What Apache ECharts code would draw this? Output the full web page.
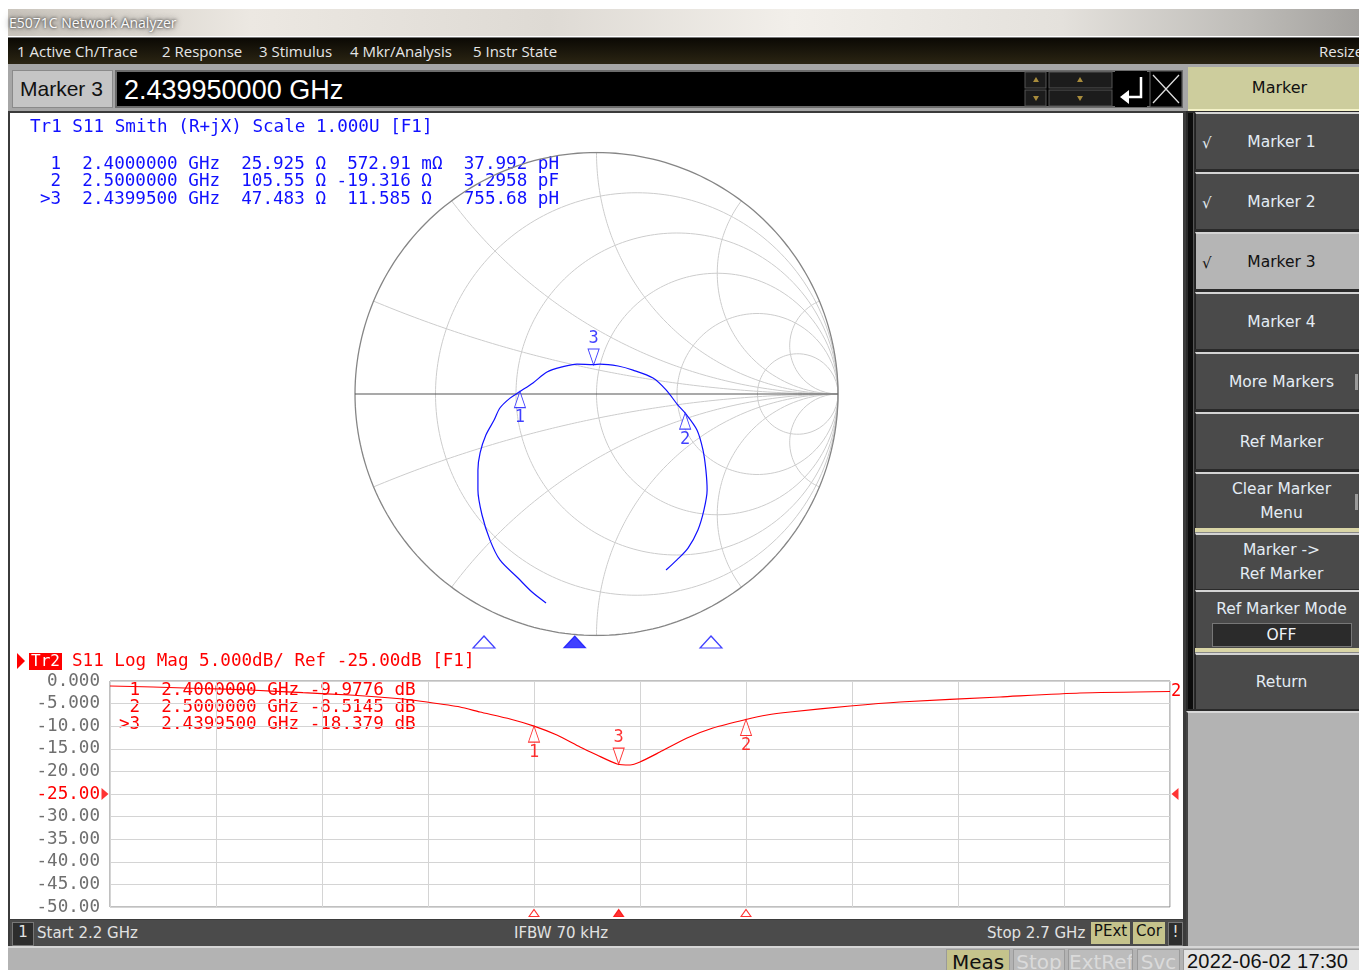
<!DOCTYPE html>
<html>
<head>
<meta charset="utf-8">
<title>E5071C Network Analyzer</title>
<script src="https://cdn.jsdelivr.net/npm/echarts@6/dist/echarts.min.js"></script>
<style>
  body { margin: 0; width: 1359px; height: 970px; background: #fff; position: relative; overflow: hidden; font-family: 'Open Sans', 'DejaVu Sans', sans-serif; }
  .abs { position: absolute; box-sizing: border-box; }
  .menu span { position: absolute; top: 3px; color: #e6e6e6; font-size: 15px; white-space: nowrap; }
  .btn { position: absolute; left: 1195px; width: 164px; background: #4a4a4a; border-top: 2px solid #d4d4d4; border-left: 1px solid #222;
         color: #e4ecf4; font: 15.5px 'DejaVu Sans', sans-serif; display: flex; align-items: center; justify-content: center;
         text-align: center; line-height: 24px; box-sizing: border-box; padding-left: 8px; }
  .btn .chk { position: absolute; left: 6px; top: 50%; margin-top: -11px; font-size: 15px; color: #e4ecf4; }
  .status { color: #e2e2e2; font: 15px 'DejaVu Sans', sans-serif; position: absolute; top: 4px; white-space: nowrap; }
  .tag { position: absolute; top: 2px; height: 22px; line-height: 22px; text-align: center; font: 15px 'DejaVu Sans', sans-serif; }
  .bot { position: absolute; top: 1px; height: 23px; line-height: 23px; text-align: center; font: 20px 'DejaVu Sans', sans-serif; white-space: nowrap; overflow: hidden; border: 1px solid #9a9a9a; box-sizing: border-box; }
</style>
</head>
<body>
<!-- window title -->
<div class="abs" style="left:8px;top:9px;width:1351px;height:27px;background:linear-gradient(90deg,#cac5bd 0%,#ece8e2 18%,#dedad4 40%,#f2efea 58%,#e4e1dc 78%,#bdbbb7 92%,#a3a19e 100%);">
  <span style="position:absolute;left:1px;top:4px;font-size:14px;color:#fafafa;text-shadow:0 0 3px #222,0 0 7px #444;">E5071C Network Analyzer</span>
</div>
<!-- menu bar -->
<div class="abs menu" style="left:8px;top:37px;width:1351px;height:27px;background:linear-gradient(180deg,#0b0904,#2b2513);border-top:1px solid #777;">
  <span style="left:9px">1 Active Ch/Trace</span>
  <span style="left:154px">2 Response</span>
  <span style="left:251px">3 Stimulus</span>
  <span style="left:342px">4 Mkr/Analysis</span>
  <span style="left:465px">5 Instr State</span>
  <span style="left:1311px">Resize</span>
</div>
<!-- entry row -->
<div class="abs" style="left:8px;top:64px;width:1178px;height:48px;background:#a6a6a6;"></div>
<div class="abs" style="left:12px;top:70px;width:101px;height:38px;background:#c5c5c5;border:1px solid #8a8a8a;font:21px 'Liberation Sans',Arial,sans-serif;line-height:36px;padding-left:7px;color:#111;">Marker 3</div>
<div class="abs" style="left:115px;top:70px;width:1068px;height:38px;background:#000;border:2px solid #6c6c6c;">
  <span style="position:absolute;left:7px;top:1px;font:27px 'Liberation Sans',Arial,sans-serif;color:#fff;line-height:34px;">2.439950000 GHz</span>
</div>
<svg class="abs" style="left:1024px;top:71px" width="160" height="37">
  <rect x="1" y="1" width="21" height="16" fill="#1c1c1c" stroke="#555"/>
  <rect x="1" y="19" width="21" height="16" fill="#1c1c1c" stroke="#555"/>
  <rect x="25" y="1" width="63" height="16" fill="#1c1c1c" stroke="#555"/>
  <rect x="25" y="19" width="63" height="16" fill="#1c1c1c" stroke="#555"/>
  <path d="M9,11 L12,6 L15,11 Z" fill="#a88c3c"/>
  <path d="M9,25 L12,30 L15,25 Z" fill="#a88c3c"/>
  <path d="M53,11 L56,6 L59,11 Z" fill="#a88c3c"/>
  <path d="M53,25 L56,30 L59,25 Z" fill="#a88c3c"/>
  <rect x="91" y="0" width="32" height="36" fill="#000"/>
  <path d="M117,6 L117,26 L104,26" stroke="#fff" stroke-width="2.5" fill="none"/>
  <path d="M96,26 L105,19 L105,33 Z" fill="#fff"/>
  <rect x="126" y="0" width="32" height="36" fill="#000" stroke="#666"/>
  <path d="M129,4 L155,32 M155,4 L129,32" stroke="#ddd" stroke-width="1.3"/>
</svg>
<!-- softkey panel -->
<div class="abs" style="left:1186px;top:64px;width:173px;height:48px;background:#a6a6a6;"></div>
<div class="abs" style="left:1188px;top:67px;width:171px;height:44px;background:#cdcd9d;border-bottom:2px solid #f4f2c8;font:16px 'DejaVu Sans',sans-serif;text-align:center;line-height:42px;color:#111;padding-left:12px;">Marker</div>
<div class="abs" style="left:1186px;top:111px;width:173px;height:601px;background:#2a2a2a;"></div>
<div class="abs" style="left:1188px;top:113px;width:6px;height:596px;background:#0c0c0c;border-right:1px solid #555;"></div>
<div class="btn" style="top:112px;height:57px;"><span class="chk">√</span>Marker 1</div>
<div class="btn" style="top:172px;height:57px;"><span class="chk">√</span>Marker 2</div>
<div class="btn" style="top:232px;height:57px;background:#b5b5b5;color:#111;"><span class="chk" style="color:#111">√</span>Marker 3</div>
<div class="btn" style="top:292px;height:57px;">Marker 4</div>
<div class="btn" style="top:352px;height:57px;">More Markers<span style="position:absolute;right:1px;top:20px;width:3px;height:16px;background:#999"></span></div>
<div class="btn" style="top:412px;height:57px;">Ref Marker</div>
<div class="btn" style="top:472px;height:56px;">Clear Marker<br>Menu<span style="position:absolute;right:1px;top:20px;width:3px;height:16px;background:#999"></span></div>
<div class="abs" style="left:1195px;top:528px;width:164px;height:5px;background:#d9d5a6;border-bottom:1px solid #888;"></div>
<div class="btn" style="top:533px;height:56px;">Marker -&gt;<br>Ref Marker</div>
<div class="btn" style="top:590px;height:58px;flex-direction:column;justify-content:flex-start;padding-top:5px;">Ref Marker Mode
  <div style="margin-top:2px;width:138px;height:22px;line-height:22px;background:#2b2b2b;border:1px solid #777;color:#eef2f8;">OFF</div>
</div>
<div class="abs" style="left:1195px;top:648px;width:164px;height:5px;background:#d9d5a6;border-bottom:1px solid #888;"></div>
<div class="btn" style="top:653px;height:56px;">Return</div>
<div class="abs" style="left:1186px;top:711px;width:173px;height:236px;background:#b3b3b3;border-top:2px solid #d8d8d8;border-left:2px solid #444;"></div>
<!-- chart frame -->
<div class="abs" style="left:8px;top:111px;width:1178px;height:836px;background:#3b3b3b;"></div>
<div id="main" class="abs" style="left:10px;top:113px;width:1173px;height:806px;background:#fff;"></div>
<!-- status bar -->
<div class="abs" style="left:10px;top:920px;width:1173px;height:26px;background:#4b4b4b;">
  <div class="tag" style="left:2px;width:20px;background:#2d2d2d;border:1px solid #777;color:#e2e2e2;">1</div>
  <span class="status" style="left:27px">Start 2.2 GHz</span>
  <span class="status" style="left:504px">IFBW 70 kHz</span>
  <span class="status" style="left:977px">Stop 2.7 GHz</span>
  <div class="tag" style="left:1081px;width:39px;background:#c5c38c;color:#111;">PExt</div>
  <div class="tag" style="left:1123px;width:32px;background:#c5c38c;color:#111;">Cor</div>
  <div class="tag" style="left:1158px;width:13px;background:#2d2d2d;border:1px solid #777;color:#e2e2e2;">!</div>
</div>
<!-- bottom bar -->
<div class="abs" style="left:8px;top:946px;width:1351px;height:24px;background:#b3b3b3;border-top:2px solid #d6d6d6;overflow:hidden;">
  <div class="bot" style="left:938px;width:64px;background:#c5c38c;color:#111;">Meas</div>
  <div class="bot" style="left:1005px;width:52px;background:#bcbcbc;color:#dadada;">Stop</div>
  <div class="bot" style="left:1060px;width:65px;background:#bcbcbc;color:#dadada;">ExtRef</div>
  <div class="bot" style="left:1129px;width:43px;background:#bcbcbc;color:#dadada;">Svc</div>
  <div class="bot" style="left:1175px;width:190px;background:#e4e4e4;color:#111;text-align:left;padding-left:3px;font:20px 'Liberation Sans',Arial,sans-serif;letter-spacing:0.2px;">2022-06-02 17:30</div>
</div>

<script>
// Smith chart grid values (normalized resistance / reactance)
const smithRValues = [0.2, 0.5, 1, 2, 5];
const smithXValues = [0.2, 0.5, 1, 2, 5];

// S11 trace on the Smith chart, reflection coefficient [re, im]
const smithTrace = [
  [-0.209, -0.865], [-0.267, -0.820], [-0.325, -0.762], [-0.400, -0.687], [-0.441, -0.605],
  [-0.474, -0.501], [-0.491, -0.398], [-0.491, -0.315], [-0.482, -0.244], [-0.458, -0.170],
  [-0.424, -0.108], [-0.400, -0.058], [-0.358, -0.017], [-0.317, 0.010], [-0.263, 0.046],
  [-0.205, 0.091], [-0.143, 0.112], [-0.081, 0.124], [-0.012, 0.122], [0.014, 0.124],
  [0.089, 0.116], [0.151, 0.099], [0.234, 0.066], [0.288, 0.017], [0.337, -0.046],
  [0.369, -0.081], [0.416, -0.149], [0.441, -0.232], [0.453, -0.315], [0.458, -0.398],
  [0.445, -0.480], [0.420, -0.563], [0.379, -0.638], [0.333, -0.687], [0.288, -0.729]
];

// markers
const markerIds = ['1', '2', '3'];
const markerFreqs = [2.4, 2.5, 2.43995];
const activeMarker = 2;
const smithMarkerGamma = [[-0.317, 0.010], [0.367, -0.079], [-0.012, 0.120]];
const logMarkerDb = [-9.9776, -8.5145, -18.379];

// Log Mag trace (GHz, dB)
const logFreqs = [
  2.2000, 2.2203, 2.2425, 2.2660, 2.2910, 2.3132, 2.3382, 2.3495, 2.3651, 2.3745,
  2.3887, 2.4000, 2.4108, 2.4217, 2.4297, 2.4392, 2.4453, 2.4500, 2.4594, 2.4722,
  2.4844, 2.5000, 2.5099, 2.5208, 2.5491, 2.5726, 2.6198, 2.6575, 2.7000
];
const logValues = [
  -1.11, -1.33, -1.66, -1.99, -2.59, -3.10, -3.98, -4.65, -5.75, -6.86,
  -8.41, -9.98, -11.95, -14.60, -16.37, -18.36, -18.58, -17.92, -15.71, -12.61,
  -10.40, -8.51, -7.52, -6.86, -5.53, -4.65, -3.54, -2.65, -2.32
];
const refLevel = -25;

// texts
const smithHeader = 'Tr1 S11 Smith (R+jX) Scale 1.000U [F1]';
const smithRows = [
  ' 1  2.4000000 GHz  25.925 Ω  572.91 mΩ  37.992 pH',
  ' 2  2.5000000 GHz  105.55 Ω -19.316 Ω   3.2958 pF',
  '>3  2.4399500 GHz  47.483 Ω  11.585 Ω   755.68 pH'
];
const logHeader = 'S11 Log Mag 5.000dB/ Ref -25.00dB [F1]';
const logRows = [
  ' 1  2.4000000 GHz -9.9776 dB',
  ' 2  2.5000000 GHz -8.5145 dB',
  '>3  2.4399500 GHz -18.379 dB'
];

const BLUE = '#1010ff';
const RED = '#ff0000';
const MONO = '"DejaVu Sans Mono", monospace';
const FONT = '17.6px ' + MONO;
const DOWN_TRI = 'path://M0,0L10,0L5,10Z';
const LEFT_TRI = 'path://M10,0L0,5L10,10Z';
const RIGHT_TRI = 'path://M0,0L10,5L0,10Z';

// z = r + jx  ->  gamma
function gamma(r, x) {
  const d = (r + 1) * (r + 1) + x * x;
  return [(r * r + x * x - 1) / d, 2 * x / d];
}

function rCircle(r) {
  const pts = [[1, 0]];
  for (let i = 1; i < 240; i++) {
    const v = -Math.PI / 2 + (i / 240) * Math.PI;
    pts.push(gamma(r, Math.tan(v)));
  }
  pts.push([1, 0]);
  return pts;
}

function xArc(x) {
  const pts = [];
  for (let i = 0; i < 120; i++) {
    pts.push(gamma(Math.tan((i / 120) * Math.PI / 2), x));
  }
  pts.push([1, 0]);
  return pts;
}

function gridLine(data, color, width) {
  return {
    type: 'line', xAxisIndex: 0, yAxisIndex: 0, data, symbol: 'none', silent: true,
    lineStyle: { color, width }, z: 1, animation: false
  };
}

const series = [];
smithRValues.forEach((r) => series.push(gridLine(rCircle(r), '#cccccc', 1)));
smithXValues.forEach((x) => {
  series.push(gridLine(xArc(x), '#cccccc', 1));
  series.push(gridLine(xArc(-x), '#cccccc', 1));
});
series.push(gridLine(rCircle(0), '#858585', 1.3));
series.push(gridLine([[-1, 0], [1, 0]], '#555555', 1.2));

// Smith trace
series.push({
  type: 'line', xAxisIndex: 0, yAxisIndex: 0, data: smithTrace, symbol: 'none', smooth: 0.3,
  lineStyle: { color: BLUE, width: 1.2 }, z: 5
});

function markerPoints(values) {
  return values.map((v, i) => {
    const active = i === activeMarker;
    return {
      value: v,
      symbol: active ? DOWN_TRI : 'triangle',
      symbolOffset: active ? [0, -8] : [0, 8],
      label: { position: active ? 'top' : 'bottom', formatter: markerIds[i] }
    };
  });
}

function markerSeries(xi, values, color) {
  return {
    type: 'scatter', xAxisIndex: xi, yAxisIndex: xi, data: markerPoints(values),
    symbolSize: [11, 16], clip: false, z: 6,
    itemStyle: { color: '#fff', borderColor: color, borderWidth: 1 },
    label: { show: true, color, fontSize: 17, fontFamily: MONO, distance: 1 }
  };
}

series.push(markerSeries(0, smithMarkerGamma, BLUE));

// stimulus position strip under the Smith chart
series.push({
  type: 'scatter', xAxisIndex: 1, yAxisIndex: 1, symbol: 'triangle', symbolSize: [22, 12], clip: false,
  data: markerFreqs.map((f, i) => ({
    value: [f, 0.5],
    itemStyle: i === activeMarker
      ? { color: BLUE, borderColor: BLUE, borderWidth: 1 }
      : { color: '#fff', borderColor: BLUE, borderWidth: 1.2 }
  }))
});

// Log Mag trace
series.push({
  type: 'line', xAxisIndex: 2, yAxisIndex: 2, data: logFreqs.map((f, i) => [f, logValues[i]]),
  symbol: 'none', smooth: 0.2, lineStyle: { color: RED, width: 1.2 }, z: 5,
  endLabel: { show: true, formatter: '2', color: RED, fontSize: 17, fontFamily: MONO, distance: 1 }
});
series.push(markerSeries(2, markerFreqs.map((f, i) => [f, logMarkerDb[i]]), RED));

// stimulus markers under the Log Mag grid
series.push({
  type: 'scatter', xAxisIndex: 2, yAxisIndex: 2, symbol: 'triangle', symbolSize: [10, 7], clip: false,
  symbolOffset: [0, 6],
  data: markerFreqs.map((f, i) => ({
    value: [f, -50],
    itemStyle: i === activeMarker
      ? { color: RED, borderColor: RED, borderWidth: 1 }
      : { color: '#fff', borderColor: RED, borderWidth: 1 }
  }))
});

// reference level pointers
series.push({
  type: 'scatter', xAxisIndex: 2, yAxisIndex: 2, clip: false, symbolSize: [7, 12],
  itemStyle: { color: RED },
  data: [
    { value: [2.2, refLevel], symbol: RIGHT_TRI, symbolOffset: [-5, 0] },
    { value: [2.7, refLevel], symbol: LEFT_TRI, symbolOffset: [5, 0] }
  ]
});

function textEl(text, x, y, fill) {
  return { type: 'text', x, y, silent: true, style: { text, font: FONT, fill, verticalAlign: 'middle' } };
}

const graphic = [textEl(smithHeader, 20, 14, BLUE)];
smithRows.forEach((row, i) => graphic.push(textEl(row, 30, 51 + i * 17.5, BLUE)));
graphic.push({ type: 'polygon', shape: { points: [[7, 540], [15, 548], [7, 556]] }, style: { fill: RED } });
graphic.push({ type: 'rect', shape: { x: 19, y: 540, width: 33, height: 17 }, style: { fill: RED } });
graphic.push({ type: 'text', x: 21, y: 549, style: { text: 'Tr2', font: '16px ' + MONO, fill: '#fff', verticalAlign: 'middle' } });
graphic.push(textEl(logHeader, 62, 548, RED));
logRows.forEach((row, i) => graphic.push(textEl(row, 109, 577 + i * 17, RED)));

const option = {
  animation: false,
  grid: [
    { left: 345, top: 39.5, width: 483, height: 483 },
    { left: 20, top: 519, width: 1135, height: 20 },
    { left: 100, top: 568, width: 1060, height: 226, show: true, borderColor: '#808080', borderWidth: 1, backgroundColor: 'transparent' }
  ],
  xAxis: [
    { gridIndex: 0, type: 'value', min: -1, max: 1, show: false },
    { gridIndex: 1, type: 'value', min: 2.2, max: 2.7, show: false },
    {
      gridIndex: 2, type: 'value', min: 2.2, max: 2.7, interval: 0.05,
      axisLabel: { show: false }, axisLine: { show: false }, axisTick: { show: false },
      splitLine: { show: true, lineStyle: { color: '#d4d4d4', width: 1 } }
    }
  ],
  yAxis: [
    { gridIndex: 0, type: 'value', min: -1, max: 1, show: false },
    { gridIndex: 1, type: 'value', min: 0, max: 1, show: false },
    {
      gridIndex: 2, type: 'value', min: -50, max: 0, interval: 5,
      axisLine: { show: false }, axisTick: { show: false },
      splitLine: { show: true, lineStyle: { color: '#d4d4d4', width: 1 } },
      axisLabel: {
        fontFamily: MONO, fontSize: 17.6, margin: 10,
        color: (v) => (Number(v) === refLevel ? RED : '#6f6f6f'),
        formatter: (v) => (Math.abs(v) < 10 ? v.toFixed(3) : v.toFixed(2))
      }
    }
  ],
  graphic,
  series
};

const myChart = echarts.init(document.getElementById('main'), null, { renderer: 'canvas' });
myChart.setOption(option);
</script>
</body>
</html>
